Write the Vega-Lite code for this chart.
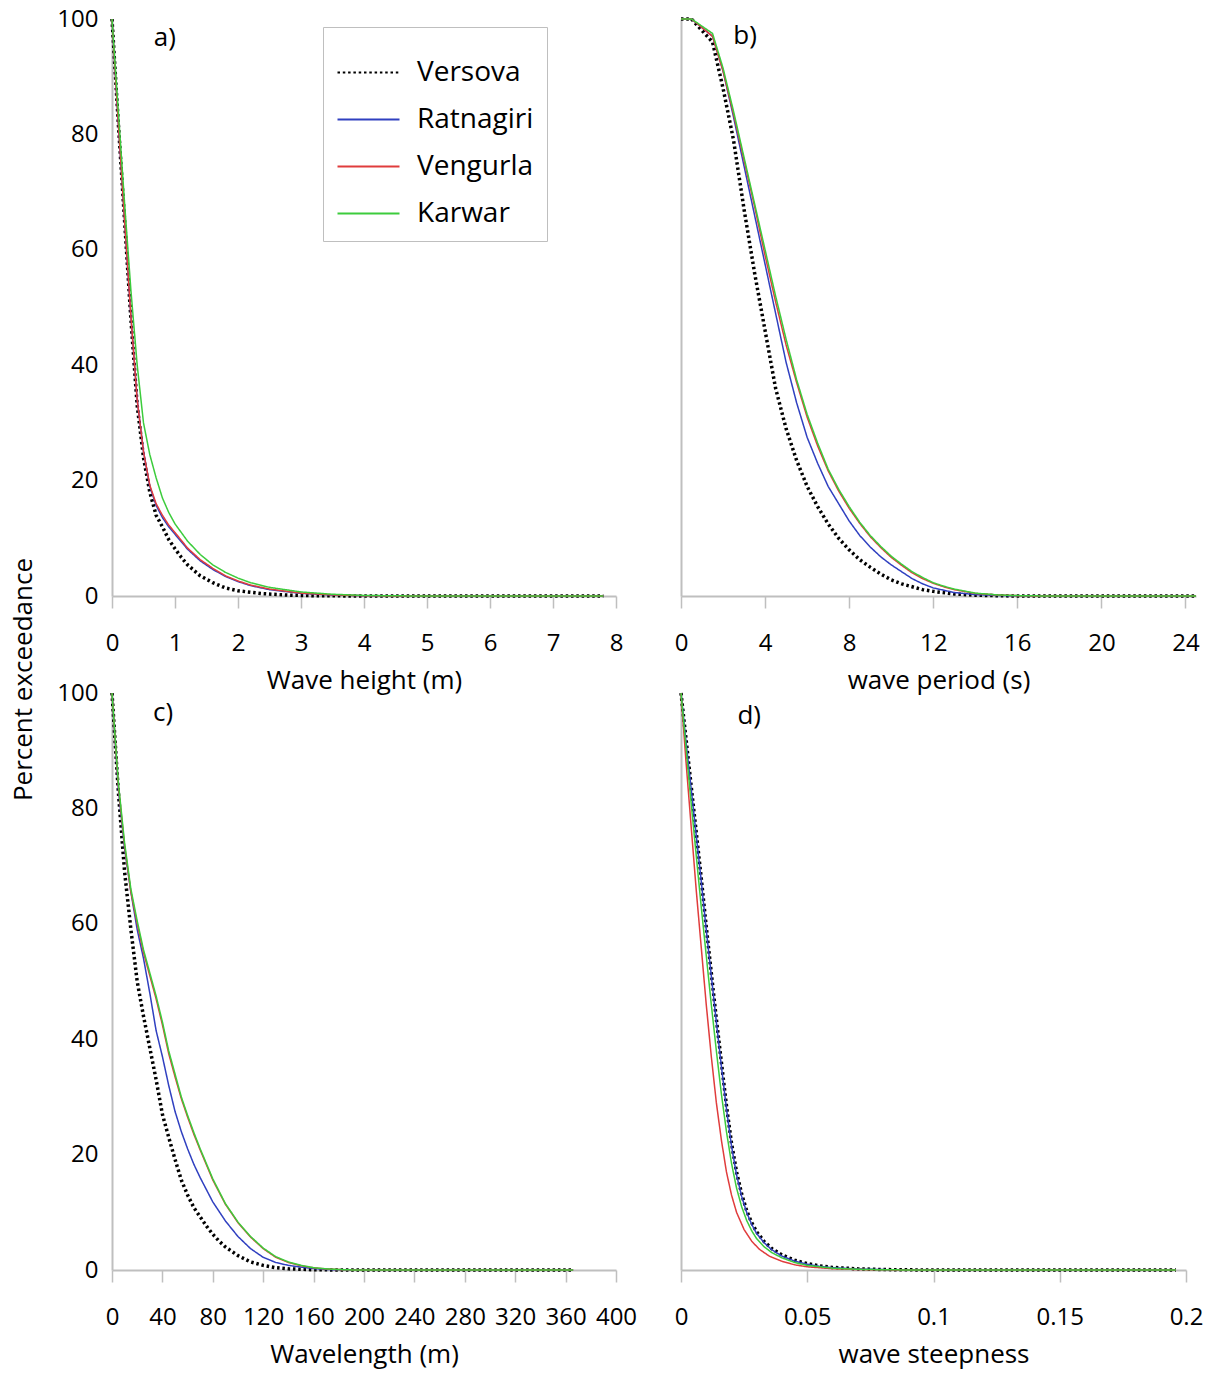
{
"$schema": "https://vega.github.io/schema/vega-lite/v6.json",
"background": "white",
"padding": {"left": 10, "top": 7, "right": 5, "bottom": 5},
"config": {
  "font": "Open Sans",
  "view": {"stroke": null},
  "axis": {"grid": false, "domainColor": "#bfbfbf", "domainWidth": 2, "tickColor": "#bfbfbf", "tickWidth": 1.5, "labelFont": "Open Sans", "labelFontSize": 24, "labelColor": "#000000", "titleFont": "Open Sans", "titleFontSize": 26, "titleFontWeight": "normal", "titleColor": "#000000", "labelOverlap": false, "labelFlush": false},
  "line": {"strokeCap": "butt", "strokeJoin": "round"}
},
"datasets": {
"a": [
{"site":"Versova","x":0,"pct":100},{"site":"Versova","x":0.1,"pct":82},{"site":"Versova","x":0.2,"pct":65},{"site":"Versova","x":0.3,"pct":48},{"site":"Versova","x":0.4,"pct":33},{"site":"Versova","x":0.5,"pct":24},{"site":"Versova","x":0.6,"pct":18},{"site":"Versova","x":0.7,"pct":14},{"site":"Versova","x":0.8,"pct":12},{"site":"Versova","x":0.9,"pct":9.8},{"site":"Versova","x":1.0,"pct":8.2},{"site":"Versova","x":1.1,"pct":6.7},{"site":"Versova","x":1.2,"pct":5.4},{"site":"Versova","x":1.4,"pct":3.5},{"site":"Versova","x":1.6,"pct":2.3},{"site":"Versova","x":1.8,"pct":1.4},{"site":"Versova","x":2.0,"pct":0.9},{"site":"Versova","x":2.4,"pct":0.4},{"site":"Versova","x":2.8,"pct":0.15},{"site":"Versova","x":3.2,"pct":0.05},{"site":"Versova","x":4,"pct":0},{"site":"Versova","x":7.8,"pct":0},
{"site":"Ratnagiri","x":0,"pct":100},{"site":"Ratnagiri","x":0.1,"pct":82},{"site":"Ratnagiri","x":0.2,"pct":65},{"site":"Ratnagiri","x":0.3,"pct":48.5},{"site":"Ratnagiri","x":0.4,"pct":34},{"site":"Ratnagiri","x":0.5,"pct":25},{"site":"Ratnagiri","x":0.6,"pct":19},{"site":"Ratnagiri","x":0.7,"pct":15.7},{"site":"Ratnagiri","x":0.8,"pct":13.6},{"site":"Ratnagiri","x":0.9,"pct":12},{"site":"Ratnagiri","x":1.0,"pct":10.7},{"site":"Ratnagiri","x":1.2,"pct":8.1},{"site":"Ratnagiri","x":1.4,"pct":6.1},{"site":"Ratnagiri","x":1.6,"pct":4.6},{"site":"Ratnagiri","x":1.8,"pct":3.4},{"site":"Ratnagiri","x":2.0,"pct":2.5},{"site":"Ratnagiri","x":2.2,"pct":1.8},{"site":"Ratnagiri","x":2.5,"pct":1.1},{"site":"Ratnagiri","x":3.0,"pct":0.45},{"site":"Ratnagiri","x":3.5,"pct":0.18},{"site":"Ratnagiri","x":4,"pct":0.05},{"site":"Ratnagiri","x":4.5,"pct":0},{"site":"Ratnagiri","x":7.8,"pct":0},
{"site":"Vengurla","x":0,"pct":100},{"site":"Vengurla","x":0.1,"pct":82},{"site":"Vengurla","x":0.2,"pct":65},{"site":"Vengurla","x":0.3,"pct":48.5},{"site":"Vengurla","x":0.4,"pct":34},{"site":"Vengurla","x":0.5,"pct":25},{"site":"Vengurla","x":0.6,"pct":19.2},{"site":"Vengurla","x":0.7,"pct":16},{"site":"Vengurla","x":0.8,"pct":14},{"site":"Vengurla","x":0.9,"pct":12.3},{"site":"Vengurla","x":1.0,"pct":11},{"site":"Vengurla","x":1.2,"pct":8.3},{"site":"Vengurla","x":1.4,"pct":6.3},{"site":"Vengurla","x":1.6,"pct":4.8},{"site":"Vengurla","x":1.8,"pct":3.5},{"site":"Vengurla","x":2.0,"pct":2.6},{"site":"Vengurla","x":2.2,"pct":1.9},{"site":"Vengurla","x":2.5,"pct":1.2},{"site":"Vengurla","x":3.0,"pct":0.5},{"site":"Vengurla","x":3.5,"pct":0.2},{"site":"Vengurla","x":4,"pct":0.05},{"site":"Vengurla","x":4.5,"pct":0},{"site":"Vengurla","x":7.8,"pct":0},
{"site":"Karwar","x":0,"pct":100},{"site":"Karwar","x":0.1,"pct":84},{"site":"Karwar","x":0.2,"pct":68},{"site":"Karwar","x":0.3,"pct":53},{"site":"Karwar","x":0.4,"pct":40},{"site":"Karwar","x":0.5,"pct":30},{"site":"Karwar","x":0.6,"pct":24.5},{"site":"Karwar","x":0.7,"pct":20.5},{"site":"Karwar","x":0.8,"pct":17},{"site":"Karwar","x":0.9,"pct":14.5},{"site":"Karwar","x":1.0,"pct":12.5},{"site":"Karwar","x":1.2,"pct":9.5},{"site":"Karwar","x":1.4,"pct":7.2},{"site":"Karwar","x":1.6,"pct":5.4},{"site":"Karwar","x":1.8,"pct":4.1},{"site":"Karwar","x":2.0,"pct":3.1},{"site":"Karwar","x":2.2,"pct":2.3},{"site":"Karwar","x":2.5,"pct":1.5},{"site":"Karwar","x":3.0,"pct":0.7},{"site":"Karwar","x":3.5,"pct":0.3},{"site":"Karwar","x":4,"pct":0.1},{"site":"Karwar","x":4.5,"pct":0.03},{"site":"Karwar","x":5,"pct":0},{"site":"Karwar","x":7.8,"pct":0}
],
"b": [
{"site":"Versova","x":0,"pct":100},{"site":"Versova","x":0.5,"pct":100},{"site":"Versova","x":1.5,"pct":96},{"site":"Versova","x":2,"pct":88},{"site":"Versova","x":2.5,"pct":79},{"site":"Versova","x":3,"pct":67},{"site":"Versova","x":3.5,"pct":56},{"site":"Versova","x":4,"pct":46},{"site":"Versova","x":4.5,"pct":36},{"site":"Versova","x":5,"pct":29},{"site":"Versova","x":5.5,"pct":23.5},{"site":"Versova","x":6,"pct":19},{"site":"Versova","x":6.5,"pct":15.5},{"site":"Versova","x":7,"pct":12.5},{"site":"Versova","x":7.5,"pct":10},{"site":"Versova","x":8,"pct":8},{"site":"Versova","x":8.5,"pct":6.3},{"site":"Versova","x":9,"pct":5},{"site":"Versova","x":9.5,"pct":3.8},{"site":"Versova","x":10,"pct":2.8},{"site":"Versova","x":10.5,"pct":2.1},{"site":"Versova","x":11,"pct":1.6},{"site":"Versova","x":11.5,"pct":1.1},{"site":"Versova","x":12,"pct":0.8},{"site":"Versova","x":13,"pct":0.35},{"site":"Versova","x":14,"pct":0.15},{"site":"Versova","x":15,"pct":0.05},{"site":"Versova","x":16,"pct":0},{"site":"Versova","x":24.5,"pct":0},
{"site":"Ratnagiri","x":0,"pct":100},{"site":"Ratnagiri","x":0.5,"pct":100},{"site":"Ratnagiri","x":1.5,"pct":97},{"site":"Ratnagiri","x":2,"pct":91},{"site":"Ratnagiri","x":2.5,"pct":83},{"site":"Ratnagiri","x":3,"pct":74.5},{"site":"Ratnagiri","x":3.5,"pct":66},{"site":"Ratnagiri","x":4,"pct":57.5},{"site":"Ratnagiri","x":4.5,"pct":49},{"site":"Ratnagiri","x":5,"pct":40.5},{"site":"Ratnagiri","x":5.5,"pct":33.5},{"site":"Ratnagiri","x":6,"pct":27.5},{"site":"Ratnagiri","x":6.5,"pct":23},{"site":"Ratnagiri","x":7,"pct":19},{"site":"Ratnagiri","x":7.5,"pct":16},{"site":"Ratnagiri","x":8,"pct":13},{"site":"Ratnagiri","x":8.5,"pct":10.5},{"site":"Ratnagiri","x":9,"pct":8.5},{"site":"Ratnagiri","x":9.5,"pct":6.8},{"site":"Ratnagiri","x":10,"pct":5.4},{"site":"Ratnagiri","x":10.5,"pct":4.2},{"site":"Ratnagiri","x":11,"pct":3},{"site":"Ratnagiri","x":11.5,"pct":2.1},{"site":"Ratnagiri","x":12,"pct":1.4},{"site":"Ratnagiri","x":13,"pct":0.6},{"site":"Ratnagiri","x":14,"pct":0.25},{"site":"Ratnagiri","x":15,"pct":0.1},{"site":"Ratnagiri","x":16,"pct":0.03},{"site":"Ratnagiri","x":17,"pct":0},{"site":"Ratnagiri","x":24.5,"pct":0},
{"site":"Vengurla","x":0,"pct":100},{"site":"Vengurla","x":0.5,"pct":100},{"site":"Vengurla","x":1.5,"pct":97},{"site":"Vengurla","x":2,"pct":91},{"site":"Vengurla","x":2.5,"pct":83.5},{"site":"Vengurla","x":3,"pct":75.5},{"site":"Vengurla","x":3.5,"pct":67.5},{"site":"Vengurla","x":4,"pct":59},{"site":"Vengurla","x":4.5,"pct":51},{"site":"Vengurla","x":5,"pct":43.5},{"site":"Vengurla","x":5.5,"pct":37},{"site":"Vengurla","x":6,"pct":31},{"site":"Vengurla","x":6.5,"pct":26},{"site":"Vengurla","x":7,"pct":21.7},{"site":"Vengurla","x":7.5,"pct":18.2},{"site":"Vengurla","x":8,"pct":15.2},{"site":"Vengurla","x":8.5,"pct":12.6},{"site":"Vengurla","x":9,"pct":10.3},{"site":"Vengurla","x":9.5,"pct":8.4},{"site":"Vengurla","x":10,"pct":6.7},{"site":"Vengurla","x":10.5,"pct":5.3},{"site":"Vengurla","x":11,"pct":4},{"site":"Vengurla","x":11.5,"pct":3},{"site":"Vengurla","x":12,"pct":2.2},{"site":"Vengurla","x":12.5,"pct":1.6},{"site":"Vengurla","x":13,"pct":1.1},{"site":"Vengurla","x":14,"pct":0.45},{"site":"Vengurla","x":15,"pct":0.18},{"site":"Vengurla","x":16,"pct":0.06},{"site":"Vengurla","x":17,"pct":0},{"site":"Vengurla","x":24.5,"pct":0},
{"site":"Karwar","x":0,"pct":100},{"site":"Karwar","x":0.5,"pct":100},{"site":"Karwar","x":1.5,"pct":97.5},{"site":"Karwar","x":2,"pct":91.5},{"site":"Karwar","x":2.5,"pct":84},{"site":"Karwar","x":3,"pct":76},{"site":"Karwar","x":3.5,"pct":68},{"site":"Karwar","x":4,"pct":60},{"site":"Karwar","x":4.5,"pct":52},{"site":"Karwar","x":5,"pct":44.5},{"site":"Karwar","x":5.5,"pct":37.5},{"site":"Karwar","x":6,"pct":31.5},{"site":"Karwar","x":6.5,"pct":26.5},{"site":"Karwar","x":7,"pct":22},{"site":"Karwar","x":7.5,"pct":18.5},{"site":"Karwar","x":8,"pct":15.5},{"site":"Karwar","x":8.5,"pct":12.8},{"site":"Karwar","x":9,"pct":10.5},{"site":"Karwar","x":9.5,"pct":8.6},{"site":"Karwar","x":10,"pct":6.9},{"site":"Karwar","x":10.5,"pct":5.5},{"site":"Karwar","x":11,"pct":4.2},{"site":"Karwar","x":11.5,"pct":3.2},{"site":"Karwar","x":12,"pct":2.3},{"site":"Karwar","x":12.5,"pct":1.7},{"site":"Karwar","x":13,"pct":1.2},{"site":"Karwar","x":14,"pct":0.5},{"site":"Karwar","x":15,"pct":0.2},{"site":"Karwar","x":16,"pct":0.07},{"site":"Karwar","x":17,"pct":0.02},{"site":"Karwar","x":18,"pct":0},{"site":"Karwar","x":24.5,"pct":0}
],
"c": [
{"site":"Versova","x":0,"pct":100},{"site":"Versova","x":5,"pct":83},{"site":"Versova","x":10,"pct":69},{"site":"Versova","x":15,"pct":59},{"site":"Versova","x":20,"pct":50},{"site":"Versova","x":25,"pct":44},{"site":"Versova","x":30,"pct":38.5},{"site":"Versova","x":35,"pct":33},{"site":"Versova","x":40,"pct":27},{"site":"Versova","x":45,"pct":23},{"site":"Versova","x":50,"pct":19.2},{"site":"Versova","x":55,"pct":15.6},{"site":"Versova","x":60,"pct":13},{"site":"Versova","x":65,"pct":10.8},{"site":"Versova","x":70,"pct":9.2},{"site":"Versova","x":75,"pct":7.6},{"site":"Versova","x":80,"pct":6.2},{"site":"Versova","x":85,"pct":5},{"site":"Versova","x":90,"pct":4},{"site":"Versova","x":100,"pct":2.5},{"site":"Versova","x":110,"pct":1.4},{"site":"Versova","x":120,"pct":0.8},{"site":"Versova","x":130,"pct":0.4},{"site":"Versova","x":140,"pct":0.2},{"site":"Versova","x":160,"pct":0.05},{"site":"Versova","x":180,"pct":0},{"site":"Versova","x":366,"pct":0},
{"site":"Ratnagiri","x":0,"pct":100},{"site":"Ratnagiri","x":5,"pct":83.5},{"site":"Ratnagiri","x":10,"pct":73},{"site":"Ratnagiri","x":15,"pct":65.5},{"site":"Ratnagiri","x":20,"pct":59},{"site":"Ratnagiri","x":25,"pct":54},{"site":"Ratnagiri","x":30,"pct":48},{"site":"Ratnagiri","x":35,"pct":41.5},{"site":"Ratnagiri","x":40,"pct":37},{"site":"Ratnagiri","x":45,"pct":32},{"site":"Ratnagiri","x":50,"pct":27.5},{"site":"Ratnagiri","x":55,"pct":24},{"site":"Ratnagiri","x":60,"pct":21},{"site":"Ratnagiri","x":65,"pct":18.3},{"site":"Ratnagiri","x":70,"pct":16},{"site":"Ratnagiri","x":80,"pct":11.8},{"site":"Ratnagiri","x":90,"pct":8.5},{"site":"Ratnagiri","x":100,"pct":5.8},{"site":"Ratnagiri","x":110,"pct":3.7},{"site":"Ratnagiri","x":120,"pct":2.2},{"site":"Ratnagiri","x":130,"pct":1.3},{"site":"Ratnagiri","x":140,"pct":0.8},{"site":"Ratnagiri","x":150,"pct":0.5},{"site":"Ratnagiri","x":160,"pct":0.25},{"site":"Ratnagiri","x":170,"pct":0.1},{"site":"Ratnagiri","x":180,"pct":0.03},{"site":"Ratnagiri","x":190,"pct":0},{"site":"Ratnagiri","x":366,"pct":0},
{"site":"Vengurla","x":0,"pct":100},{"site":"Vengurla","x":5,"pct":84},{"site":"Vengurla","x":10,"pct":73.5},{"site":"Vengurla","x":15,"pct":65.5},{"site":"Vengurla","x":20,"pct":60},{"site":"Vengurla","x":25,"pct":55},{"site":"Vengurla","x":30,"pct":51},{"site":"Vengurla","x":35,"pct":47},{"site":"Vengurla","x":40,"pct":42.5},{"site":"Vengurla","x":45,"pct":37.5},{"site":"Vengurla","x":50,"pct":33.5},{"site":"Vengurla","x":55,"pct":29.7},{"site":"Vengurla","x":60,"pct":26.5},{"site":"Vengurla","x":65,"pct":23.5},{"site":"Vengurla","x":70,"pct":20.8},{"site":"Vengurla","x":80,"pct":15.6},{"site":"Vengurla","x":90,"pct":11.4},{"site":"Vengurla","x":100,"pct":8.2},{"site":"Vengurla","x":110,"pct":5.7},{"site":"Vengurla","x":120,"pct":3.7},{"site":"Vengurla","x":130,"pct":2.2},{"site":"Vengurla","x":140,"pct":1.3},{"site":"Vengurla","x":150,"pct":0.75},{"site":"Vengurla","x":160,"pct":0.38},{"site":"Vengurla","x":170,"pct":0.18},{"site":"Vengurla","x":180,"pct":0.07},{"site":"Vengurla","x":190,"pct":0.02},{"site":"Vengurla","x":200,"pct":0},{"site":"Vengurla","x":366,"pct":0},
{"site":"Karwar","x":0,"pct":100},{"site":"Karwar","x":5,"pct":84.5},{"site":"Karwar","x":10,"pct":74},{"site":"Karwar","x":15,"pct":66},{"site":"Karwar","x":20,"pct":60.5},{"site":"Karwar","x":25,"pct":55.5},{"site":"Karwar","x":30,"pct":51.5},{"site":"Karwar","x":35,"pct":47.5},{"site":"Karwar","x":40,"pct":43},{"site":"Karwar","x":45,"pct":38},{"site":"Karwar","x":50,"pct":34},{"site":"Karwar","x":55,"pct":30},{"site":"Karwar","x":60,"pct":26.8},{"site":"Karwar","x":65,"pct":23.8},{"site":"Karwar","x":70,"pct":21},{"site":"Karwar","x":80,"pct":15.8},{"site":"Karwar","x":90,"pct":11.5},{"site":"Karwar","x":100,"pct":8.3},{"site":"Karwar","x":110,"pct":5.8},{"site":"Karwar","x":120,"pct":3.8},{"site":"Karwar","x":130,"pct":2.3},{"site":"Karwar","x":140,"pct":1.4},{"site":"Karwar","x":150,"pct":0.8},{"site":"Karwar","x":160,"pct":0.4},{"site":"Karwar","x":170,"pct":0.2},{"site":"Karwar","x":180,"pct":0.08},{"site":"Karwar","x":190,"pct":0.02},{"site":"Karwar","x":200,"pct":0},{"site":"Karwar","x":366,"pct":0}
],
"d": [
{"site":"Versova","x":0,"pct":100},{"site":"Versova","x":0.002,"pct":92},{"site":"Versova","x":0.004,"pct":84},{"site":"Versova","x":0.006,"pct":76},{"site":"Versova","x":0.008,"pct":68},{"site":"Versova","x":0.01,"pct":59.5},{"site":"Versova","x":0.012,"pct":51.5},{"site":"Versova","x":0.014,"pct":43.5},{"site":"Versova","x":0.016,"pct":36},{"site":"Versova","x":0.018,"pct":28.5},{"site":"Versova","x":0.02,"pct":22},{"site":"Versova","x":0.022,"pct":17},{"site":"Versova","x":0.024,"pct":13.2},{"site":"Versova","x":0.026,"pct":10.3},{"site":"Versova","x":0.028,"pct":8.2},{"site":"Versova","x":0.03,"pct":6.6},{"site":"Versova","x":0.033,"pct":4.9},{"site":"Versova","x":0.036,"pct":3.7},{"site":"Versova","x":0.04,"pct":2.6},{"site":"Versova","x":0.045,"pct":1.7},{"site":"Versova","x":0.05,"pct":1.1},{"site":"Versova","x":0.055,"pct":0.7},{"site":"Versova","x":0.06,"pct":0.45},{"site":"Versova","x":0.07,"pct":0.2},{"site":"Versova","x":0.08,"pct":0.08},{"site":"Versova","x":0.09,"pct":0.03},{"site":"Versova","x":0.1,"pct":0},{"site":"Versova","x":0.196,"pct":0},
{"site":"Ratnagiri","x":0,"pct":100},{"site":"Ratnagiri","x":0.002,"pct":91.5},{"site":"Ratnagiri","x":0.004,"pct":83.5},{"site":"Ratnagiri","x":0.006,"pct":75.5},{"site":"Ratnagiri","x":0.008,"pct":67.5},{"site":"Ratnagiri","x":0.01,"pct":59},{"site":"Ratnagiri","x":0.012,"pct":51},{"site":"Ratnagiri","x":0.014,"pct":43},{"site":"Ratnagiri","x":0.016,"pct":35.3},{"site":"Ratnagiri","x":0.018,"pct":28},{"site":"Ratnagiri","x":0.02,"pct":21.5},{"site":"Ratnagiri","x":0.022,"pct":16.5},{"site":"Ratnagiri","x":0.024,"pct":12.8},{"site":"Ratnagiri","x":0.026,"pct":10},{"site":"Ratnagiri","x":0.028,"pct":7.9},{"site":"Ratnagiri","x":0.03,"pct":6.3},{"site":"Ratnagiri","x":0.033,"pct":4.7},{"site":"Ratnagiri","x":0.036,"pct":3.5},{"site":"Ratnagiri","x":0.04,"pct":2.4},{"site":"Ratnagiri","x":0.045,"pct":1.55},{"site":"Ratnagiri","x":0.05,"pct":1},{"site":"Ratnagiri","x":0.055,"pct":0.62},{"site":"Ratnagiri","x":0.06,"pct":0.4},{"site":"Ratnagiri","x":0.07,"pct":0.17},{"site":"Ratnagiri","x":0.08,"pct":0.07},{"site":"Ratnagiri","x":0.09,"pct":0.02},{"site":"Ratnagiri","x":0.1,"pct":0},{"site":"Ratnagiri","x":0.196,"pct":0},
{"site":"Vengurla","x":0,"pct":100},{"site":"Vengurla","x":0.002,"pct":88},{"site":"Vengurla","x":0.004,"pct":77},{"site":"Vengurla","x":0.006,"pct":66},{"site":"Vengurla","x":0.008,"pct":56},{"site":"Vengurla","x":0.01,"pct":46},{"site":"Vengurla","x":0.012,"pct":37},{"site":"Vengurla","x":0.014,"pct":29},{"site":"Vengurla","x":0.016,"pct":22.5},{"site":"Vengurla","x":0.018,"pct":17},{"site":"Vengurla","x":0.02,"pct":13},{"site":"Vengurla","x":0.022,"pct":10},{"site":"Vengurla","x":0.025,"pct":7},{"site":"Vengurla","x":0.028,"pct":5},{"site":"Vengurla","x":0.031,"pct":3.6},{"site":"Vengurla","x":0.035,"pct":2.4},{"site":"Vengurla","x":0.04,"pct":1.5},{"site":"Vengurla","x":0.045,"pct":0.9},{"site":"Vengurla","x":0.05,"pct":0.55},{"site":"Vengurla","x":0.06,"pct":0.22},{"site":"Vengurla","x":0.07,"pct":0.08},{"site":"Vengurla","x":0.08,"pct":0.03},{"site":"Vengurla","x":0.09,"pct":0},{"site":"Vengurla","x":0.196,"pct":0},
{"site":"Karwar","x":0,"pct":100},{"site":"Karwar","x":0.002,"pct":90.5},{"site":"Karwar","x":0.004,"pct":81},{"site":"Karwar","x":0.006,"pct":72},{"site":"Karwar","x":0.008,"pct":63},{"site":"Karwar","x":0.01,"pct":54.5},{"site":"Karwar","x":0.012,"pct":46},{"site":"Karwar","x":0.014,"pct":38},{"site":"Karwar","x":0.016,"pct":30.5},{"site":"Karwar","x":0.018,"pct":24},{"site":"Karwar","x":0.02,"pct":18.5},{"site":"Karwar","x":0.022,"pct":14.2},{"site":"Karwar","x":0.024,"pct":11},{"site":"Karwar","x":0.026,"pct":8.6},{"site":"Karwar","x":0.028,"pct":6.8},{"site":"Karwar","x":0.03,"pct":5.4},{"site":"Karwar","x":0.033,"pct":4},{"site":"Karwar","x":0.036,"pct":3},{"site":"Karwar","x":0.04,"pct":2.1},{"site":"Karwar","x":0.045,"pct":1.3},{"site":"Karwar","x":0.05,"pct":0.8},{"site":"Karwar","x":0.06,"pct":0.32},{"site":"Karwar","x":0.07,"pct":0.12},{"site":"Karwar","x":0.08,"pct":0.04},{"site":"Karwar","x":0.09,"pct":0.01},{"site":"Karwar","x":0.1,"pct":0},{"site":"Karwar","x":0.196,"pct":0}
]
},
"columns": 2,
"spacing": {"row": 97, "column": 65},
"bounds": "flush",
"resolve": {"legend": {"color": "independent", "strokeDash": "independent"}},
"concat": [
{
  "width": 504, "height": 577,
  "layer": [
    {"data": {"name": "a"},
     "mark": {"type": "line", "strokeCap": "butt", "strokeJoin": "round"},
     "encoding": {
      "x": {"field": "x", "type": "quantitative", "scale": {"domain": [0, 8], "nice": false, "zero": false},
            "axis": {"values": [0,1,2,3,4,5,6,7,8], "format": "d", "tickSize": 12, "labelPadding": 23, "title": "Wave height (m)", "titlePadding": 12}},
      "y": {"field": "pct", "type": "quantitative", "scale": {"domain": [0, 100], "nice": false},
            "axis": {"values": [0,5,10,15,20,25,30,35,40,45,50,55,60,65,70,75,80,85,90,95,100], "labelExpr": "datum.value % 20 === 0 ? datum.label : ''", "tickSize": -8, "tickOpacity": {"condition": {"test": "datum.value % 10 === 5", "value": 1}, "value": 0}, "labelPadding": 22, "title": null}},
      "color": {"field": "site", "type": "nominal",
                "scale": {"domain": ["Versova","Ratnagiri","Vengurla","Karwar"], "range": ["#000000","#3040c0","#e03c3c","#3ccc3c"]},
                "legend": {"orient": "none", "legendX": 211, "legendY": 8, "title": null, "symbolType": "stroke", "symbolSize": 3844, "symbolStrokeWidth": 2.2, "labelFontSize": 28, "labelFont": "Open Sans", "labelColor": "#000000", "labelOffset": 16, "padding": 13, "rowPadding": -1, "strokeColor": "#bfbfbf", "fillColor": "#ffffff"}},
      "strokeDash": {"field": "site", "type": "nominal",
                "scale": {"domain": ["Versova","Ratnagiri","Vengurla","Karwar"], "range": [[2.5,2.8],[1,0],[1,0],[1,0]]},
                "legend": {"orient": "none", "legendX": 211, "legendY": 8, "title": null, "symbolType": "stroke", "symbolSize": 3844, "symbolStrokeWidth": 2.2, "labelFontSize": 28, "labelFont": "Open Sans", "labelColor": "#000000", "labelOffset": 16, "padding": 13, "rowPadding": -1, "strokeColor": "#bfbfbf", "fillColor": "#ffffff"}},
      "strokeWidth": {"condition": {"test": "datum.site === 'Versova'", "value": 3.5}, "value": 1.5}
     }},
    {"data": {"values": [{}]},
     "mark": {"type": "text", "fontSize": 26, "font": "Open Sans", "align": "center", "baseline": "middle", "color": "#000000"},
     "encoding": {"x": {"datum": 0.84}, "y": {"datum": 96.7}, "text": {"value": "a)"}}}
  ]
},
{
  "width": 515, "height": 577,
  "layer": [
    {"data": {"name": "b"},
     "mark": {"type": "line", "strokeCap": "butt", "strokeJoin": "round"},
     "encoding": {
      "x": {"field": "x", "type": "quantitative", "scale": {"domain": [0, 24.5], "nice": false, "zero": false},
            "axis": {"values": [0,4,8,12,16,20,24], "format": "d", "tickSize": 12, "labelPadding": 23, "title": "wave period (s)", "titlePadding": 12}},
      "y": {"field": "pct", "type": "quantitative", "scale": {"domain": [0, 100], "nice": false},
            "axis": {"values": [0,5,10,15,20,25,30,35,40,45,50,55,60,65,70,75,80,85,90,95,100], "labels": false, "tickSize": -8, "tickOpacity": {"condition": {"test": "datum.value % 10 === 5", "value": 1}, "value": 0}, "title": null}},
      "color": {"field": "site", "type": "nominal", "scale": {"domain": ["Versova","Ratnagiri","Vengurla","Karwar"], "range": ["#000000","#3040c0","#e03c3c","#3ccc3c"]}, "legend": null},
      "strokeDash": {"field": "site", "type": "nominal", "scale": {"domain": ["Versova","Ratnagiri","Vengurla","Karwar"], "range": [[2.5,2.8],[1,0],[1,0],[1,0]]}, "legend": null},
      "strokeWidth": {"condition": {"test": "datum.site === 'Versova'", "value": 3.5}, "value": 1.5}
     }},
    {"data": {"values": [{}]},
     "mark": {"type": "text", "fontSize": 26, "font": "Open Sans", "align": "center", "baseline": "middle", "color": "#000000"},
     "encoding": {"x": {"datum": 3.05}, "y": {"datum": 97}, "text": {"value": "b)"}}}
  ]
},
{
  "width": 504, "height": 577,
  "layer": [
    {"data": {"name": "c"},
     "mark": {"type": "line", "strokeCap": "butt", "strokeJoin": "round"},
     "encoding": {
      "x": {"field": "x", "type": "quantitative", "scale": {"domain": [0, 400], "nice": false, "zero": false},
            "axis": {"values": [0,40,80,120,160,200,240,280,320,360,400], "format": "d", "tickSize": 12, "labelPadding": 23, "title": "Wavelength (m)", "titlePadding": 12}},
      "y": {"field": "pct", "type": "quantitative", "scale": {"domain": [0, 100], "nice": false},
            "axis": {"values": [0,5,10,15,20,25,30,35,40,45,50,55,60,65,70,75,80,85,90,95,100], "labelExpr": "datum.value % 20 === 0 ? datum.label : ''", "tickSize": -8, "tickOpacity": {"condition": {"test": "datum.value % 10 === 5", "value": 1}, "value": 0}, "labelPadding": 22, "title": "Percent exceedance", "titleY": -14, "titlePadding": 20}},
      "color": {"field": "site", "type": "nominal", "scale": {"domain": ["Versova","Ratnagiri","Vengurla","Karwar"], "range": ["#000000","#3040c0","#e03c3c","#3ccc3c"]}, "legend": null},
      "strokeDash": {"field": "site", "type": "nominal", "scale": {"domain": ["Versova","Ratnagiri","Vengurla","Karwar"], "range": [[2.5,2.8],[1,0],[1,0],[1,0]]}, "legend": null},
      "strokeWidth": {"condition": {"test": "datum.site === 'Versova'", "value": 3.5}, "value": 1.5}
     }},
    {"data": {"values": [{}]},
     "mark": {"type": "text", "fontSize": 26, "font": "Open Sans", "align": "center", "baseline": "middle", "color": "#000000"},
     "encoding": {"x": {"datum": 40.5}, "y": {"datum": 96.5}, "text": {"value": "c)"}}}
  ]
},
{
  "width": 505, "height": 577,
  "layer": [
    {"data": {"name": "d"},
     "mark": {"type": "line", "strokeCap": "butt", "strokeJoin": "round"},
     "encoding": {
      "x": {"field": "x", "type": "quantitative", "scale": {"domain": [0, 0.2], "nice": false, "zero": false},
            "axis": {"values": [0,0.05,0.1,0.15,0.2], "format": "~g", "tickSize": 12, "labelPadding": 23, "title": "wave steepness", "titlePadding": 12}},
      "y": {"field": "pct", "type": "quantitative", "scale": {"domain": [0, 100], "nice": false},
            "axis": {"values": [0,5,10,15,20,25,30,35,40,45,50,55,60,65,70,75,80,85,90,95,100], "labels": false, "tickSize": -8, "tickOpacity": {"condition": {"test": "datum.value % 10 === 5", "value": 1}, "value": 0}, "title": null}},
      "color": {"field": "site", "type": "nominal", "scale": {"domain": ["Versova","Ratnagiri","Vengurla","Karwar"], "range": ["#000000","#3040c0","#e03c3c","#3ccc3c"]}, "legend": null},
      "strokeDash": {"field": "site", "type": "nominal", "scale": {"domain": ["Versova","Ratnagiri","Vengurla","Karwar"], "range": [[2.5,2.8],[1,0],[1,0],[1,0]]}, "legend": null},
      "strokeWidth": {"condition": {"test": "datum.site === 'Versova'", "value": 3.5}, "value": 1.5}
     }},
    {"data": {"values": [{}]},
     "mark": {"type": "text", "fontSize": 26, "font": "Open Sans", "align": "center", "baseline": "middle", "color": "#000000"},
     "encoding": {"x": {"datum": 0.027}, "y": {"datum": 96}, "text": {"value": "d)"}}}
  ]
}
]
}
